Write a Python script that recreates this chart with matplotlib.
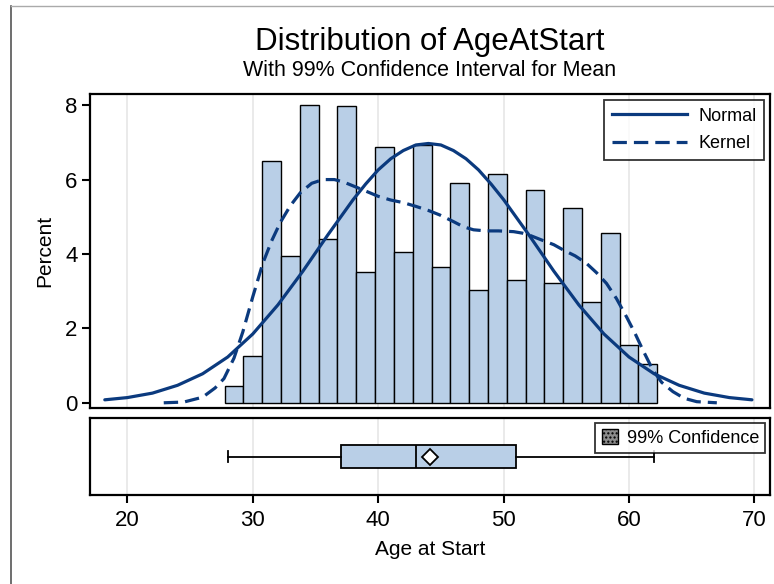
import matplotlib.pyplot as plt
from matplotlib.lines import Line2D
from matplotlib.patches import Patch

plt.rcParams['font.family'] = ['Liberation Sans Narrow', 'Liberation Sans', 'DejaVu Sans']

# histogram (percent per 1.5-year bin)
bin_mid = [28.5, 30.0, 31.5, 33.0, 34.5, 36.0, 37.5, 39.0, 40.5, 42.0, 43.5, 45.0,
           46.5, 48.0, 49.5, 51.0, 52.5, 54.0, 55.5, 57.0, 58.5, 60.0, 61.5]
pct = [0.46, 1.27, 6.49, 3.94, 8.01, 4.41, 7.97, 3.52, 6.88, 4.06, 6.92, 3.65,
       5.90, 3.03, 6.16, 3.29, 5.73, 3.23, 5.23, 2.72, 4.57, 1.54, 1.05]
bin_w = 1.5

# normal fit curve
norm_x = [18.2, 20, 22, 24, 26, 28, 30, 32, 34, 36, 38, 39, 40, 41, 42, 43, 44,
          45, 46, 47, 48, 49, 50, 52, 54, 56, 58, 60, 62, 64, 66, 68, 69.8]
norm_y = [0.08, 0.14, 0.26, 0.47, 0.78, 1.23, 1.85, 2.63, 3.54, 4.52, 5.46, 5.88,
          6.26, 6.56, 6.78, 6.93, 6.97, 6.93, 6.78, 6.56, 6.26, 5.88, 5.46, 4.52,
          3.54, 2.63, 1.85, 1.23, 0.78, 0.47, 0.26, 0.14, 0.08]

# kernel density curve
kern_x = [22.9, 24.5, 26.0, 27.0, 27.7, 28.5, 29.2, 30.0, 30.8, 31.5, 32.2, 33.0,
          33.8, 34.7, 35.6, 36.5, 37.2, 38.0, 38.8, 40.0, 41.0, 42.0, 43.0, 44.0,
          44.9, 46.0, 46.8, 47.6, 48.6, 49.6, 50.8, 51.5, 52.1, 53.0, 54.0, 54.8,
          55.7, 56.6, 57.4, 58.2, 59.0, 59.8, 60.5, 61.1, 61.9, 62.6, 63.5, 64.4,
          65.4, 67.0]
kern_y = [0.0, 0.02, 0.15, 0.4, 0.65, 1.2, 1.9, 2.85, 3.75, 4.35, 4.85, 5.3,
          5.65, 5.9, 6.0, 6.0, 5.94, 5.83, 5.72, 5.55, 5.45, 5.38, 5.28, 5.17,
          5.05, 4.87, 4.73, 4.65, 4.62, 4.62, 4.6, 4.56, 4.5, 4.38, 4.25, 4.1,
          3.95, 3.75, 3.5, 3.21, 2.8, 2.31, 1.85, 1.42, 0.88, 0.55, 0.30, 0.12,
          0.03, 0.0]

# box plot summary
box_min, box_q1, box_med, box_q3, box_max = 28.0, 37.0, 43.0, 51.0, 62.0
box_mean = 44.1

xticks = [20, 30, 40, 50, 60, 70]
yticks = [0, 2, 4, 6, 8]

line_col = '#0B3A7E'
bar_col = '#B9CFE7'

fig = plt.figure(figsize=(7.74, 5.84), dpi=100)
W, H = 774, 584

def frac(x0, y0, x1, y1):
    return [x0 / W, 1 - y1 / H, (x1 - x0) / W, (y1 - y0) / H]

ax = fig.add_axes(frac(90, 94, 770, 408))
axb = fig.add_axes(frac(90, 418, 770, 495))

xlim = (17.02, 71.24)

# main histogram
ax.bar(bin_mid, pct, width=bin_w, color=bar_col, edgecolor='black', linewidth=1.0, zorder=2)
ax.plot(norm_x, norm_y, color=line_col, linewidth=2.3, zorder=3, solid_capstyle='round')
ax.plot(kern_x, kern_y, color=line_col, linewidth=2.3, zorder=3,
        linestyle=(0, (4.5, 2.2)))
ax.set_xlim(*xlim)
ax.set_ylim(-0.14, 8.30)
ax.set_yticks(yticks)
ax.set_xticks(xticks)
ax.tick_params(axis='x', length=0, labelbottom=False)
ax.tick_params(axis='y', labelsize=16, length=6, width=1.5, pad=3)
ax.grid(axis='x', color='#E6E6E6', linewidth=1.2, zorder=0)
ax.set_axisbelow(True)
for s in ax.spines.values():
    s.set_linewidth(1.6)
ax.set_ylabel('Percent', fontsize=15, labelpad=8)

handles = [Line2D([], [], color=line_col, linewidth=2.3),
           Line2D([], [], color=line_col, linewidth=2.3, linestyle=(0, (4.5, 2.2)))]
leg = ax.legend(handles, ['Normal', 'Kernel'], loc='upper right', fontsize=13,
                frameon=True, fancybox=False, edgecolor='black', handlelength=4.2,
                borderaxespad=0.35, labelspacing=0.6, handletextpad=0.6)
leg.get_frame().set_linewidth(1.3)

# box panel
axb.bxp([{'whislo': box_min, 'q1': box_q1, 'med': box_med, 'q3': box_q3,
          'whishi': box_max, 'fliers': [], 'mean': box_mean}],
        positions=[0], vert=False, widths=0.58, patch_artist=True, showmeans=True,
        boxprops=dict(facecolor=bar_col, edgecolor='black', linewidth=1.3),
        medianprops=dict(color='black', linewidth=1.3),
        whiskerprops=dict(color='black', linewidth=1.3),
        capprops=dict(color='black', linewidth=1.3),
        meanprops=dict(marker='D', markerfacecolor='white', markeredgecolor='black',
                       markersize=8, markeredgewidth=1.3))
axb.set_xlim(*xlim)
axb.set_ylim(-1, 1)
axb.set_yticks([])
axb.set_xticks(xticks)
axb.tick_params(axis='x', labelsize=16, length=6, width=1.5, pad=5)
axb.grid(axis='x', color='#E6E6E6', linewidth=1.2, zorder=0)
axb.set_axisbelow(True)
for s in axb.spines.values():
    s.set_linewidth(1.6)
axb.set_xlabel('Age at Start', fontsize=15, labelpad=6)

ci = Patch(facecolor='#8C8C8C', edgecolor='black', hatch='....', linewidth=1.0)
leg2 = axb.legend([ci], ['99% Confidence'], loc='upper right', fontsize=13,
                  frameon=True, fancybox=False, edgecolor='black', handlelength=0.9,
                  handleheight=0.9, borderaxespad=0.25, handletextpad=0.5,
                  borderpad=0.35)
leg2.get_frame().set_linewidth(1.3)

fig.text(430 / W, 1 - 42 / H, 'Distribution of AgeAtStart', ha='center', va='center',
         fontsize=22.5)
fig.text(430 / W, 1 - 71 / H, 'With 99% Confidence Interval for Mean', ha='center',
         va='center', fontsize=15.5)

# outer page border
fig.add_artist(Line2D([11 / W, 11 / W], [0, 1 - 6 / H], transform=fig.transFigure,
                      color='#555555', linewidth=1.2))
fig.add_artist(Line2D([11 / W, 1], [1 - 6 / H, 1 - 6 / H], transform=fig.transFigure,
                      color='#AAAAAA', linewidth=1.0))

fig.savefig('out.png', dpi=100)
